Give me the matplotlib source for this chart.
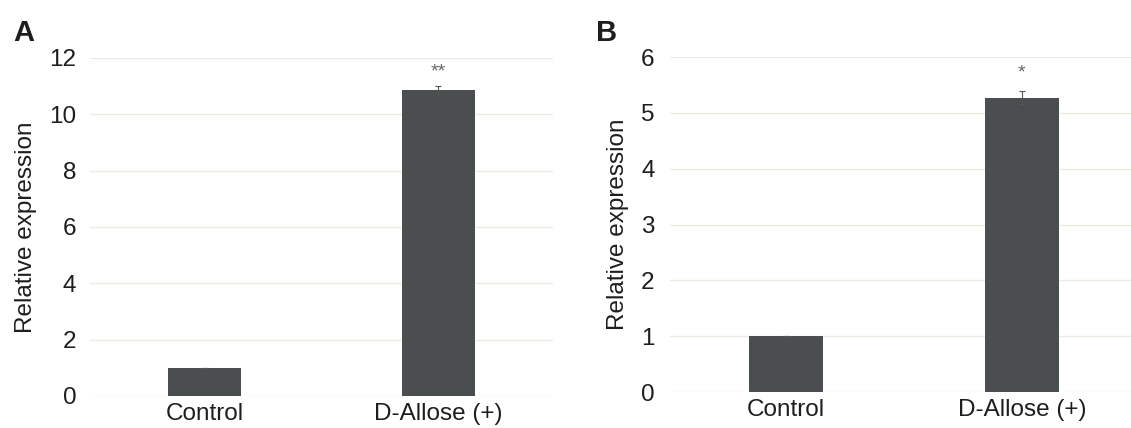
import matplotlib
matplotlib.use('Agg')
import matplotlib.pyplot as plt

# data
categories = ['Control', 'D-Allose (+)']
values_a = [1.0, 10.86]
errors_a = [0.0, 0.14]
values_b = [1.0, 5.27]
errors_b = [0.0, 0.12]
stars_a = ['', '**']
stars_b = ['', '*']

plt.rcParams['font.family'] = ['Liberation Sans', 'DejaVu Sans']

bar_color = '#4a4e4e'
grid_color = '#ecece4'
text_color = '#1e1e1e'

fig = plt.figure(figsize=(11.31, 4.28), dpi=100)
ax_a = fig.add_axes([0.0796, 0.0748, 0.4093, 0.7897])
ax_b = fig.add_axes([0.5924, 0.0841, 0.4076, 0.7827])


def panel(ax, vals, errs, stars, ymax, yticks, xlim, star_y, ypad):
    x = list(range(len(categories)))
    ax.bar(x, vals, width=0.315, color=bar_color, zorder=3,
           yerr=errs, error_kw=dict(ecolor='#555555', elinewidth=0.8,
                                    capsize=2.5, capthick=0.8))
    ax.set_xlim(*xlim)
    ax.set_ylim(0, ymax)
    ax.set_yticks(yticks)
    ax.set_xticks(x)
    ax.set_xticklabels(categories)
    ax.yaxis.grid(True, color=grid_color, linewidth=1.0, zorder=0)
    for s in ax.spines.values():
        s.set_visible(False)
    ax.tick_params(axis='both', length=0, labelsize=17.5, colors=text_color)
    ax.tick_params(axis='y', pad=ypad)
    ax.tick_params(axis='x', pad=5)
    ax.set_ylabel('Relative expression', fontsize=17.5, color=text_color, labelpad=9)
    for xi, st in zip(x, stars):
        if st:
            ax.text(xi, star_y, st, ha='center', va='center',
                    fontsize=14, color='#666666')


panel(ax_a, values_a, errors_a, stars_a, 12, range(0, 13, 2), (-0.49, 1.49), 11.5, 10)
panel(ax_b, values_b, errors_b, stars_b, 6, range(0, 7), (-0.49, 1.462), 5.72, 11)

fig.text(0.012, 0.955, 'A', fontsize=21, fontweight='bold', color=text_color, va='top')
fig.text(0.527, 0.955, 'B', fontsize=21, fontweight='bold', color=text_color, va='top')

fig.savefig('out.png', dpi=100, facecolor='white')
